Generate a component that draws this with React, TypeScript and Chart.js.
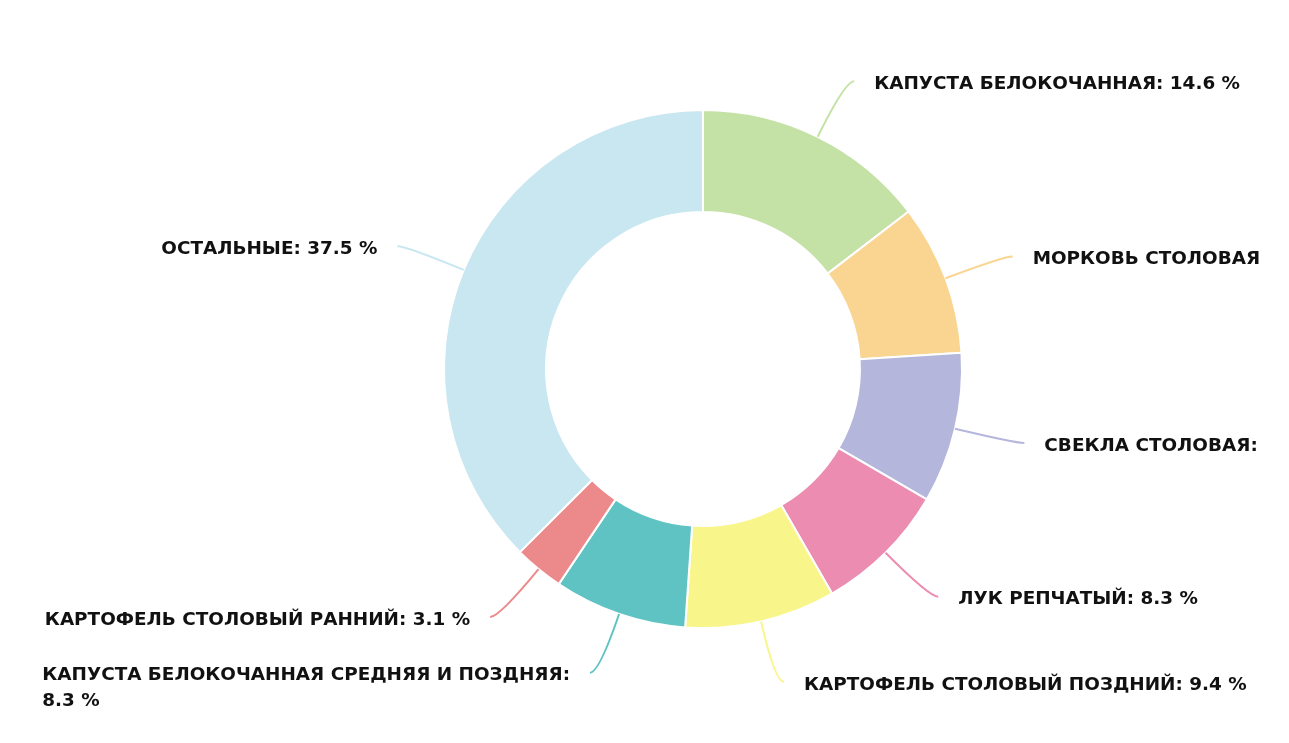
import React, { useEffect, useRef } from 'react';
import { Chart, registerables } from 'chart.js';

Chart.register(...registerables);

const categories = [
  'КАПУСТА БЕЛОКОЧАННАЯ',
  'МОРКОВЬ СТОЛОВАЯ',
  'СВЕКЛА СТОЛОВАЯ',
  'ЛУК РЕПЧАТЫЙ',
  'КАРТОФЕЛЬ СТОЛОВЫЙ ПОЗДНИЙ',
  'КАПУСТА БЕЛОКОЧАННАЯ СРЕДНЯЯ И ПОЗДНЯЯ',
  'КАРТОФЕЛЬ СТОЛОВЫЙ РАННИЙ',
  'ОСТАЛЬНЫЕ',
];
const shares = [14.6, 9.4, 9.4, 8.3, 9.4, 8.3, 3.1, 37.5];
const sliceColors = [
  '#c5e2a6',
  '#fad491',
  '#b4b6dc',
  '#ec8cb1',
  '#f8f68a',
  '#5fc2c3',
  '#ec8a8b',
  '#c8e7f0',
];

const FONT = 'bold 18.4px "DejaVu Sans", sans-serif';
const LEN1 = 62;
const LEN2 = 9;
const GAP = 20;
const LEFT_EDGE = 34;
const RIGHT_EDGE = 1254;
const LINE_H = 26;

function truncate(ctx: CanvasRenderingContext2D, text: string, maxW: number): string {
  let cur = '';
  for (const ch of text) {
    if (ctx.measureText(cur + ch).width > maxW) break;
    cur += ch;
  }
  return cur.trimEnd();
}

function wrapWords(ctx: CanvasRenderingContext2D, text: string, maxW: number): string[] {
  const words = text.split(' ');
  const lines: string[] = [];
  let cur = '';
  for (const w of words) {
    const t = cur ? cur + ' ' + w : w;
    if (cur && ctx.measureText(t).width > maxW) {
      lines.push(cur);
      cur = w;
    } else {
      cur = t;
    }
  }
  if (cur) lines.push(cur);
  for (let k = 1; k < lines.length; k++) {
    if (lines[k] === '%') {
      const prev = lines[k - 1].split(' ');
      const num = prev.pop();
      lines[k - 1] = prev.join(' ');
      lines[k] = num + ' %';
    }
  }
  return lines;
}

const outerLabels = {
  id: 'outerLabels',
  afterDatasetsDraw(chart: any) {
    const ctx: CanvasRenderingContext2D = chart.ctx;
    const meta = chart.getDatasetMeta(0);
    ctx.save();
    ctx.font = FONT;
    meta.data.forEach((arc: any, i: number) => {
      const p = arc.getProps(['x', 'y', 'startAngle', 'endAngle', 'outerRadius'], true);
      const mid = (p.startAngle + p.endAngle) / 2;
      const c = Math.cos(mid);
      const s = Math.sin(mid);
      const r = p.outerRadius;
      const x0 = p.x + c * r;
      const y0 = p.y + s * r;
      const x1 = p.x + c * (r + LEN1);
      const y1 = p.y + s * (r + LEN1);
      const right = c >= 0;
      const x2 = x1 + (right ? LEN2 : -LEN2);
      const y2 = y1;
      ctx.beginPath();
      ctx.moveTo(x0, y0);
      ctx.quadraticCurveTo(x1, y1, x2, y2);
      ctx.strokeStyle = sliceColors[i];
      ctx.lineWidth = 2;
      ctx.stroke();

      const text = categories[i] + ': ' + shares[i].toFixed(1) + ' %';
      ctx.fillStyle = '#111111';
      ctx.textBaseline = 'middle';
      const ty = y2 + 3;
      if (right) {
        const lx = x2 + GAP;
        ctx.textAlign = 'left';
        ctx.fillText(truncate(ctx, text, RIGHT_EDGE - lx), lx, ty);
      } else {
        const rx = x2 - GAP;
        const lines = wrapWords(ctx, text, rx - LEFT_EDGE);
        if (lines.length === 1) {
          ctx.textAlign = 'right';
          ctx.fillText(lines[0], rx, ty);
        } else {
          ctx.textAlign = 'left';
          const w = Math.max(...lines.map((l) => ctx.measureText(l).width));
          const lx = rx - w;
          lines.forEach((l, k) => ctx.fillText(l, lx, ty + k * LINE_H));
        }
      }
    });
    ctx.restore();
  },
};

export default function App() {
  const ref = useRef<HTMLCanvasElement | null>(null);
  useEffect(() => {
    if (!ref.current) return;
    const chart = new Chart(ref.current, {
      type: 'doughnut',
      data: {
        labels: categories,
        datasets: [
          {
            data: shares,
            backgroundColor: sliceColors,
            borderColor: '#ffffff',
            borderWidth: 2,
          },
        ],
      },
      options: {
        responsive: true,
        maintainAspectRatio: false,
        animation: false,
        cutout: '60.6%',
        layout: { padding: { left: 117, right: 0, top: 101, bottom: 106 } },
        plugins: {
          legend: { display: false },
          tooltip: { enabled: false },
        },
      },
      plugins: [outerLabels],
    });
    return () => chart.destroy();
  }, []);
  return (
    <div style={{ width: 1273, height: 727, position: 'relative' }}>
      <canvas ref={ref} />
    </div>
  );
}
